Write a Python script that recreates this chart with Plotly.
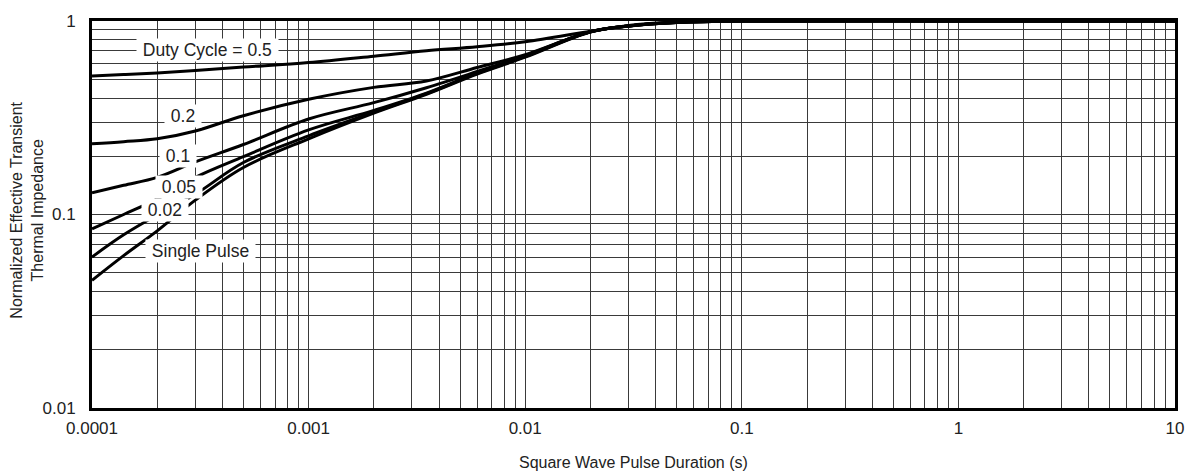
import math
import plotly.graph_objects as go

# Pulse duration (s)
pulse_duration = [1e-4, 1.4e-4, 2e-4, 3e-4, 5e-4, 1e-3, 2e-3, 3.5e-3, 6e-3, 1e-2,
                  2e-2, 3e-2, 5e-2, 1e-1, 1, 10]

# Normalized effective transient thermal impedance per duty cycle
z_d05 = [0.520, 0.529, 0.539, 0.555, 0.578, 0.610, 0.658, 0.702, 0.736, 0.781,
         0.885, 0.948, 0.988, 1.0, 1.0, 1.0]
z_d02 = [0.232, 0.238, 0.246, 0.270, 0.324, 0.394, 0.454, 0.490, 0.575, 0.670,
         0.880, 0.943, 0.985, 1.0, 1.0, 1.0]
z_d01 = [0.1296, 0.1415, 0.1555, 0.187, 0.230, 0.3115, 0.3785, 0.452, 0.548, 0.662,
         0.880, 0.943, 0.983, 1.0, 1.0, 1.0]
z_d005 = [0.0843, 0.100, 0.120, 0.1555, 0.199, 0.2737, 0.345, 0.424, 0.539, 0.658,
          0.880, 0.943, 0.982, 1.0, 1.0, 1.0]
z_d002 = [0.0603, 0.0785, 0.0994, 0.1273, 0.1856, 0.255, 0.338, 0.421, 0.536, 0.654,
          0.880, 0.943, 0.982, 1.0, 1.0, 1.0]
z_single = [0.0457, 0.0613, 0.0823, 0.1186, 0.175, 0.246, 0.334, 0.418, 0.532, 0.650,
            0.878, 0.940, 0.982, 1.0, 1.0, 1.0]

series = [z_d05, z_d02, z_d01, z_d005, z_d002, z_single]
series_names = ["0.5", "0.2", "0.1", "0.05", "0.02", "Single Pulse"]

# Curve labels and their anchor positions (data coords)
label_texts = ["Duty Cycle = 0.5", "0.2", "0.1", "0.05", "0.02", "Single Pulse"]
label_x = [3.43e-4, 2.64e-4, 2.49e-4, 2.52e-4, 2.18e-4, 3.18e-4]
label_y = [0.705, 0.323, 0.2015, 0.139, 0.1051, 0.0651]

# Tick values / labels
x_major = [1e-4, 1e-3, 1e-2, 1e-1, 1, 10]
x_major_text = ["0.0001", "0.001", "0.01", "0.1", "1", "10"]
y_major = [0.01, 0.1, 1]
y_major_text = ["0.01", "0.1", "1"]


def all_decade_ticks(majors, labels):
    vals, texts = [], []
    for i, m in enumerate(majors):
        vals.append(m)
        texts.append(labels[i])
        if i < len(majors) - 1:
            for k in range(2, 10):
                vals.append(m * k)
                texts.append("")
    return vals, texts


xtv, xtt = all_decade_ticks(x_major, x_major_text)
ytv, ytt = all_decade_ticks(y_major, y_major_text)

fig = go.Figure()
for ys, nm in zip(series, series_names):
    fig.add_trace(go.Scatter(
        x=pulse_duration, y=ys, mode="lines", name=nm,
        line=dict(color="black", width=3, shape="spline", smoothing=1.0),
        showlegend=False, hoverinfo="skip"))

family = "Liberation Sans, Arial, sans-serif"
font_title = dict(family=family, size=16, color="#222222")
font_tick = dict(family=family, size=17, color="#222222")
font_label = dict(family=family, size=17.5, color="#222222")

NBSP = "\u00a0"
for t, lx, ly in zip(label_texts, label_x, label_y):
    fig.add_annotation(x=math.log10(lx), y=math.log10(ly), xref="x", yref="y",
                       text=NBSP + t + NBSP,
                       showarrow=False, bgcolor="white", borderpad=1,
                       font=font_label, xanchor="center", yanchor="middle")

fig.add_annotation(x=0.5, y=0, xref="paper", yref="paper", yshift=-54,
                   text="Square Wave Pulse Duration (s)", showarrow=False,
                   font=font_title, xanchor="center", yanchor="middle")
fig.add_annotation(x=0, y=0.51, xref="paper", yref="paper", xshift=-65,
                   text="Normalized Effective Transient<br>Thermal Impedance",
                   textangle=-90, showarrow=False, font=font_title,
                   xanchor="center", yanchor="middle")

fig.update_xaxes(type="log", range=[-4, 1], tickvals=xtv, ticktext=xtt,
                 showgrid=True, gridcolor="#3a3a3a", gridwidth=1,
                 showline=True, linecolor="black", linewidth=3, mirror=True,
                 ticks="", tickfont=font_tick, zeroline=False, ticklabelstandoff=3)
fig.update_yaxes(type="log", range=[-2, 0], tickvals=ytv, ticktext=ytt,
                 showgrid=True, gridcolor="#3a3a3a", gridwidth=1,
                 showline=True, linecolor="black", linewidth=3, mirror=True,
                 ticks="", tickfont=font_tick, zeroline=False, ticklabelstandoff=10)

fig.update_layout(width=1196, height=473,
                  margin=dict(l=92, r=20, t=17, b=65),
                  paper_bgcolor="white", plot_bgcolor="white")

fig.write_html("out.html")
